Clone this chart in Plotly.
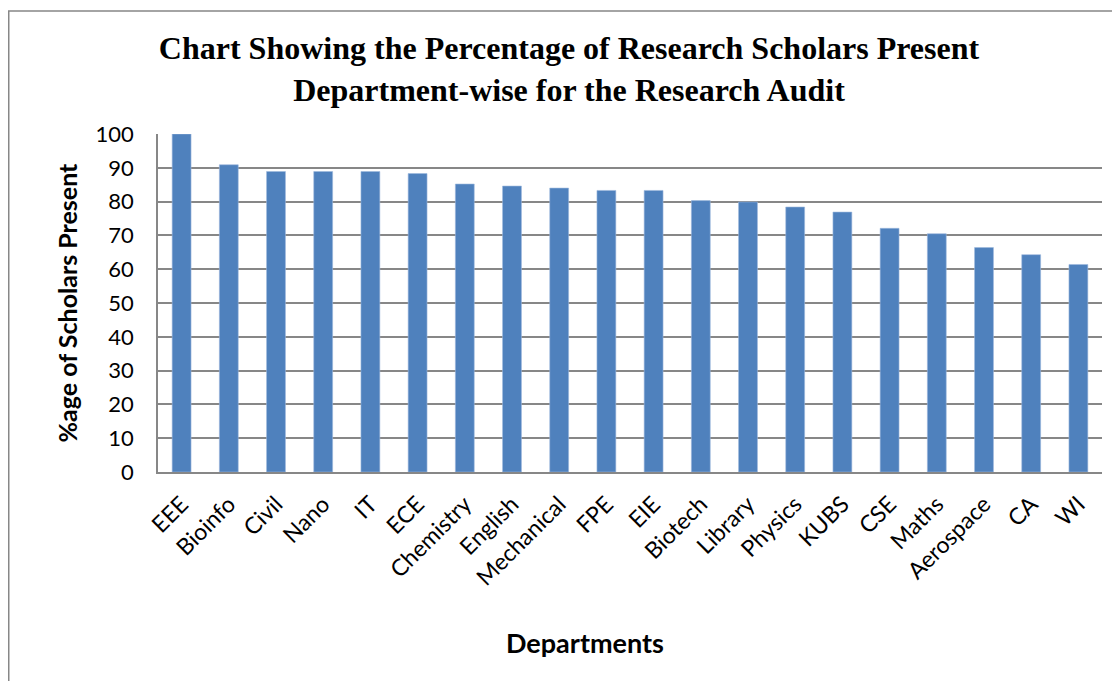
import plotly.graph_objects as go

departments = ['EEE', 'Bioinfo', 'Civil', 'Nano', 'IT', 'ECE', 'Chemistry', 'English',
               'Mechanical', 'FPE', 'EIE', 'Biotech', 'Library', 'Physics', 'KUBS', 'CSE',
               'Maths', 'Aerospace', 'CA', 'WI']
percent_present = [100, 90.9, 88.9, 88.9, 88.9, 88.3, 85.2, 84.6, 84.0, 83.3, 83.3,
                   80.3, 79.9, 78.4, 76.9, 72.1, 70.5, 66.4, 64.3, 61.4]
y_ticks = [0, 10, 20, 30, 40, 50, 60, 70, 80, 90, 100]

SANS = "Lato, 'Open Sans', sans-serif"
SERIF = "'Liberation Serif', 'Times New Roman', serif"

fig = go.Figure()
fig.add_trace(go.Bar(
    x=departments,
    y=percent_present,
    marker=dict(color='#4F81BD', line=dict(color='#9DB9DD', width=0.6)),
    showlegend=False,
))

# page has an 8px body margin, so the figure is 1112x673 and margins are shifted
fig.update_layout(
    width=1112, height=673,
    margin=dict(l=150, r=18, t=126, b=209, autoexpand=False),
    paper_bgcolor='white',
    plot_bgcolor='white',
    bargap=0.6,
    title=dict(
        text='<b>Chart Showing the Percentage of Research Scholars Present<br>Department-wise for the Research Audit</b>',
        font=dict(family=SERIF, size=32, color='black'),
        x=0.5045, xanchor='center', y=0.924, yanchor='middle',
    ),
    font=dict(family=SANS, color='black'),
)

fig.update_yaxes(
    range=[0, 100], tickvals=y_ticks,
    automargin=False,
    showgrid=True, gridcolor='#878787', gridwidth=1.5,
    showline=True, linecolor='#878787', linewidth=1.5,
    zeroline=False,
    tickfont=dict(family=SANS, size=22, color='black'),
    ticks='', ticklen=0, ticklabelstandoff=18,
    title=dict(text='<b>%age of Scholars Present</b>', font=dict(family=SANS, size=25, color='black'),
               standoff=11),
)
fig.update_xaxes(
    tickangle=-45,
    automargin=False,
    showline=True, linecolor='#878787', linewidth=1.5,
    showgrid=False,
    tickfont=dict(family=SANS, size=23, color='black'),
    ticklabelstandoff=8,
)

# x axis title sits left of the plot centre in the original
fig.add_annotation(text='<b>Departments</b>', xref='paper', yref='paper',
                   x=(585 - 158) / 944, y=-(642 - 472) / 338,
                   xanchor='center', yanchor='middle', showarrow=False,
                   font=dict(family=SANS, size=27, color='black'))

# outer chart border (continues past the right/bottom edges)
fig.add_shape(type='rect', xref='paper', yref='paper',
              x0=-149.25 / 944, x1=1.2, y0=-0.9, y1=(673 - 3 - 209) / 338,
              line=dict(color='#878787', width=1.5), fillcolor='rgba(0,0,0,0)', layer='below')

fig.write_html("out.html")
